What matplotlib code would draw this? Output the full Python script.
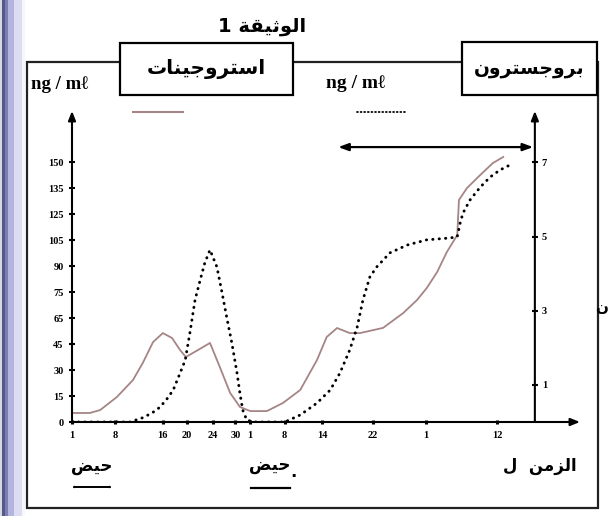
import numpy as np
import matplotlib
matplotlib.use('Agg')
import matplotlib.pyplot as plt
from matplotlib.patches import Rectangle, FancyArrowPatch
from matplotlib.lines import Line2D

# ---------------- data ----------------
x_tick_pos = [1, 8.5, 16.8, 21, 25.5, 29.4, 31.9, 38, 44.5, 53.3, 62.6, 74.9]
x_tick_labels = ['1', '8', '16', '20', '24', '30', '1', '8', '14', '22', '1', '12']
estro_ticks = [0, 15, 30, 45, 65, 75, 90, 105, 125, 135, 150]
prog_ticks = [1, 3, 5, 7]

estro_day = [1, 4.1, 5.9, 8.8, 11.6, 13.3, 15.1, 16.8, 18.4, 19.8, 20.8, 22.9, 25.0,
             26.7, 28.5, 30.2, 32.0, 34.9, 37.7, 40.7, 43.6, 45.3, 47.1, 49.3, 51.1,
             55.1, 58.6, 61.0, 62.7, 64.5, 66.2, 68.0, 68.3, 69.7, 72.0, 74.2, 76.0]
estro_val = [5.2, 5.2, 6.9, 14.4, 24.2, 34, 46.5, 53.4, 49.6, 41.5, 37.5, 41.5, 45.8,
             31.8, 16.8, 8.7, 6.3, 6.3, 11, 18.5, 35.7, 50.4, 57.3, 53.4, 53.4,
             57.4, 66.9, 71.9, 77.3, 86.5, 98.1, 108.8, 130.4, 135, 142.5, 149.4, 152.9]

prog_day = [1, 11.1, 13.2, 14.9, 16.3, 17.5, 18.6, 19.8, 20.7, 21.5, 22.4, 23.3, 24.1,
            25.0, 26.2, 27.1, 28.0, 28.8, 29.7, 30.2, 30.7, 31.4, 32.8, 38.0, 40.7,
            43.6, 45.9, 47.6, 49.3, 50.6, 51.6, 52.8, 54.0, 56.3, 59.3, 62.7, 66.7,
            68.0, 68.5, 69.0, 70.2, 72.0, 73.7, 75.4, 77.2]
prog_val = [0, 0, 0.11, 0.24, 0.40, 0.62, 0.86, 1.32, 1.67, 2.40, 3.29, 3.83, 4.29,
            4.64, 4.18, 3.48, 2.75, 2.13, 1.32, 0.78, 0.32, 0.05, 0, 0, 0.19,
            0.51, 0.86, 1.32, 1.94, 2.56, 3.29, 3.91, 4.18, 4.56, 4.77, 4.91, 4.96,
            4.99, 5.36, 5.63, 5.98, 6.33, 6.60, 6.79, 6.93]

title_txt = 'الوثيقة 1'
estro_name = 'استروجينات'
prog_name = 'بروجسترون'
unit_txt = 'ng / mℓ'
period_txt = 'حيض'
time_txt = 'الزمن ل'
edge_txt = 'ن'

# ---------------- minimal Arabic shaping ----------------
FORMS = {  # isolated, final, initial, medial
    'ا': (0xFE8D, 0xFE8E, None, None), 'ب': (0xFE8F, 0xFE90, 0xFE91, 0xFE92),
    'ت': (0xFE95, 0xFE96, 0xFE97, 0xFE98), 'ث': (0xFE99, 0xFE9A, 0xFE9B, 0xFE9C),
    'ج': (0xFE9D, 0xFE9E, 0xFE9F, 0xFEA0), 'ح': (0xFEA1, 0xFEA2, 0xFEA3, 0xFEA4),
    'ر': (0xFEAD, 0xFEAE, None, None), 'ز': (0xFEAF, 0xFEB0, None, None),
    'س': (0xFEB1, 0xFEB2, 0xFEB3, 0xFEB4), 'ض': (0xFEBD, 0xFEBE, 0xFEBF, 0xFEC0),
    'ق': (0xFED5, 0xFED6, 0xFED7, 0xFED8), 'ل': (0xFEDD, 0xFEDE, 0xFEDF, 0xFEE0),
    'م': (0xFEE1, 0xFEE2, 0xFEE3, 0xFEE4), 'ن': (0xFEE5, 0xFEE6, 0xFEE7, 0xFEE8),
    'و': (0xFEED, 0xFEEE, None, None), 'ي': (0xFEF1, 0xFEF2, 0xFEF3, 0xFEF4),
    'ة': (0xFE93, 0xFE94, None, None),
}


def shape_word(w):
    out = []
    for i, ch in enumerate(w):
        if ch not in FORMS:
            out.append(ch)
            continue
        prev = w[i - 1] if i > 0 else None
        nxt = w[i + 1] if i < len(w) - 1 else None
        pj = prev in FORMS and FORMS[prev][2] is not None
        nj = nxt in FORMS and FORMS[ch][2] is not None
        f = FORMS[ch]
        if pj and nj:
            c = f[3]
        elif pj:
            c = f[1]
        elif nj:
            c = f[2]
        else:
            c = f[0]
        out.append(chr(c))
    return ''.join(out)


def ar(s, sep=' '):
    vis = []
    for w in reversed(s.split(' ')):
        if any(c in FORMS for c in w):
            vis.append(shape_word(w)[::-1])
        else:
            vis.append(w)
    return sep.join(vis)


# ---------------- figure ----------------
W, H = 609, 516
fig = plt.figure(figsize=(W / 100, H / 100), dpi=100)


def P(x, y):
    return (x / W, 1 - y / H)


AR_FONT = ['DejaVu Sans']
SERIF = ['Liberation Serif', 'DejaVu Serif']

# scan binding strip
for x0, x1, col in [(0, 2, '#d8d8e0'), (2, 5, '#55598a'), (5, 8, '#7a7eb2'),
                    (8, 14, '#b4b4dc'), (14, 22, '#dcdcf2'), (22, 25, '#f6f6fb')]:
    fig.add_artist(Rectangle(P(x0, 516), (x1 - x0) / W, 1, transform=fig.transFigure,
                             facecolor=col, edgecolor='none', zorder=0))

# outer frame
fig.add_artist(Rectangle(P(27, 508), 571 / W, 446 / H, transform=fig.transFigure,
                         fill=False, edgecolor='#222222', lw=1.6, zorder=1))

# axes
ax = fig.add_axes([72 / W, 1 - 422 / H, (580 - 72) / W, (422 - 111) / H])
ax.patch.set_alpha(0)
vals = np.array(estro_ticks, float)
idx = np.arange(len(vals), dtype=float)


def fwd(v):
    v = np.asarray(v, float)
    return np.where(v > 150, 10 + (v - 150) / 15,
                    np.where(v < 0, v / 15, np.interp(v, vals, idx)))


def inv(i):
    i = np.asarray(i, float)
    return np.where(i > 10, 150 + (i - 10) * 15,
                    np.where(i < 0, i * 15, np.interp(i, idx, vals)))


ax.set_yscale('function', functions=(fwd, inv))
ax.set_xlim(1, 89.35)
ax.set_ylim(0, float(inv(311 / 26)))
for s in ax.spines.values():
    s.set_visible(False)

ax2 = ax.twinx()
ax2.set_ylim(0, 311 / 37.1)
for s in ax2.spines.values():
    s.set_visible(False)
ax2.spines['right'].set_position(('data', 81.5))

# curves
ax.plot(estro_day, estro_val, color='#a58585', lw=1.3, solid_joinstyle='round', zorder=3)
ax2.plot(prog_day, prog_val, color='black', lw=2.1, linestyle=(0, (0.1, 2.1)),
         dash_capstyle='round', zorder=4)

# ticks
tick_font = dict(family=SERIF, weight='bold', size=7.5)
ax.set_yticks(estro_ticks)
ax.set_yticklabels([str(t) for t in estro_ticks], **tick_font)
ax.tick_params(axis='y', direction='inout', length=4, width=1.5, pad=4)
ax.yaxis.set_minor_locator(matplotlib.ticker.NullLocator())
ax.set_xticks(x_tick_pos)
ax.set_xticklabels(x_tick_labels, family=SERIF, weight='bold', size=7.5)
ax.tick_params(axis='x', direction='inout', length=3, width=2.2, pad=5)
ax2.set_yticks(prog_ticks)
ax2.set_yticklabels([str(t) for t in prog_ticks], **tick_font)
ax2.tick_params(axis='y', direction='inout', length=4, width=1.5, pad=3)

# axis arrows
arw = dict(arrowstyle='-|>,head_length=0.55,head_width=0.22', lw=1.5, color='black',
           shrinkA=0, shrinkB=0)
ax.annotate('', xy=(0, 1), xytext=(0, 0), xycoords='axes fraction',
            textcoords='axes fraction', arrowprops=arw)
ax.annotate('', xy=(1, 0), xytext=(0, 0), xycoords='axes fraction',
            textcoords='axes fraction', arrowprops=arw)
ax.annotate('', xy=(81.5, 1), xytext=(81.5, 0), xycoords=ax.get_xaxis_transform(),
            textcoords=ax.get_xaxis_transform(), arrowprops=arw)
# double arrow (duration)
dbl = dict(arrowstyle='<|-|>,head_length=0.6,head_width=0.22', lw=1.6, color='black',
           shrinkA=0, shrinkB=0)
ax2.annotate('', xy=(81.2, 7.41), xytext=(47.3, 7.41), arrowprops=dbl)

# legend samples
fig.add_artist(Line2D([133 / W, 183 / W], [1 - 112 / H] * 2, color='#a58585', lw=1.5))
fig.add_artist(Line2D([357 / W, 407 / W], [1 - 112 / H] * 2, color='black', lw=1.3,
                      linestyle=(0, (0.5, 1.5)), dash_capstyle='round'))

# units
fig.text(*P(31, 84), unit_txt, family=SERIF, weight='bold', size=13.5, va='center', ha='left')
fig.text(*P(326, 83), unit_txt, family=SERIF, weight='bold', size=14, va='center', ha='left')

# legend boxes
for (x0, y0, x1, y1, txt, fs) in [(120, 43, 293, 95, estro_name, 14.5),
                                   (462, 42, 597, 95, prog_name, 13.5)]:
    fig.add_artist(Rectangle(P(x0, y1), (x1 - x0) / W, (y1 - y0) / H, transform=fig.transFigure,
                             facecolor='white', edgecolor='black', lw=1.6, zorder=5))
    fig.text(*P((x0 + x1) / 2, (y0 + y1) / 2), ar(txt), family=AR_FONT, weight='bold',
             size=fs, ha='center', va='center', zorder=6)

# title
fig.text(*P(262, 27), ar(title_txt), family=AR_FONT, weight='bold', size=14,
         ha='center', va='center')

# bottom labels
fig.text(*P(92, 466), ar(period_txt), family=AR_FONT, weight='bold', size=12,
         ha='center', va='center')
fig.text(*P(270, 465), ar(period_txt), family=AR_FONT, weight='bold', size=12,
         ha='center', va='center')
fig.text(*P(293, 472), '.', family=AR_FONT, weight='bold', size=12, ha='center', va='center')
fig.text(*P(540, 466), ar(time_txt, sep='  '), family=AR_FONT, weight='bold', size=12,
         ha='center', va='center')
fig.text(*P(602, 308), ar(edge_txt), family=AR_FONT, weight='bold', size=11,
         ha='center', va='center')

small_dbl = dict(arrowstyle='<|-|>,head_length=0.35,head_width=0.18', lw=1.4, color='black',
                 shrinkA=0, shrinkB=0)
fig.add_artist(FancyArrowPatch(P(72, 487), P(112, 487), transform=fig.transFigure, **small_dbl))
fig.add_artist(Line2D([251 / W, 290 / W], [1 - 488 / H] * 2, color='black', lw=1.6))

fig.savefig('out.png', dpi=100)
